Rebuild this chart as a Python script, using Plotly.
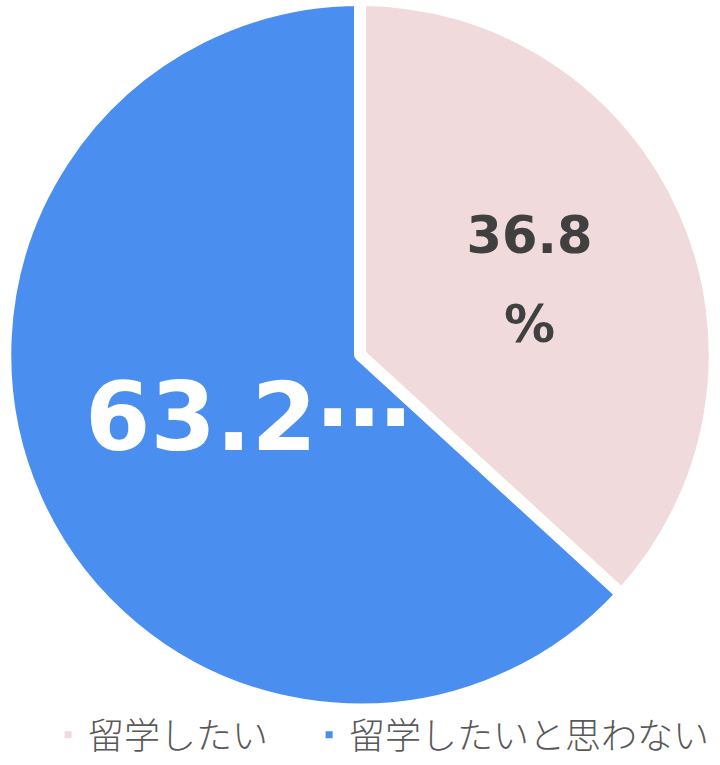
import plotly.graph_objects as go

labels = ["留学したい", "留学したいと思わない"]
values = [36.8, 63.2]
pink_text = "<span style='font-size:51px'>36.8</span><br><span style='font-size:51px'>%</span>"
blue_text = "63.2⋯"
colors = ["#F0DADB", "#4A8EF0"]

legend_labels = [labels[0] + "\u3000", labels[1]]

fig = go.Figure(go.Pie(
    labels=legend_labels,
    values=values,
    text=[pink_text, ""],
    textinfo="text",
    textposition="inside",
    insidetextorientation="horizontal",
    sort=False,
    direction="clockwise",
    rotation=0,
    marker=dict(colors=colors, line=dict(color="white", width=12)),
    textfont=dict(family="DejaVu Sans", color="#404040", size=68, weight="bold"),
    domain=dict(x=[0, 1], y=[0.04, 1]),
    hoverinfo="skip",
))

fig.add_annotation(
    x=248/720, y=1 - 432/765, xref="paper", yref="paper",
    text=blue_text, showarrow=False, xanchor="center", yanchor="middle",
    font=dict(family="DejaVu Sans", color="#FFFFFF", size=94, weight="bold"),
)

fig.update_layout(
    width=720, height=765,
    margin=dict(l=0, r=0, t=0, b=0),
    paper_bgcolor="white",
    showlegend=True,
    legend=dict(orientation="h", x=0.53, xanchor="center", y=-0.035, yanchor="bottom",
                font=dict(family="Noto Sans CJK JP", size=36, color="#595959", weight=300),
                itemwidth=30, tracegroupgap=0),
    uniformtext=dict(mode=False),
)

fig.write_html("out.html")
